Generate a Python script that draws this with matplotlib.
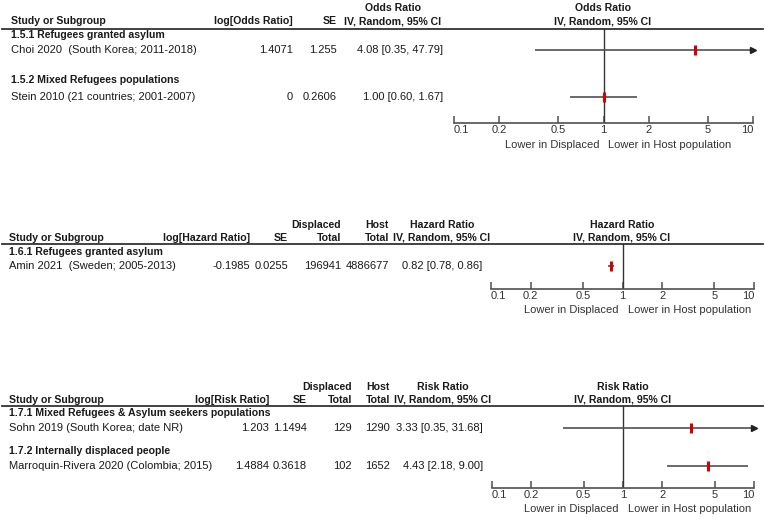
import matplotlib
matplotlib.use("Agg")
import matplotlib.pyplot as plt
from matplotlib.lines import Line2D

plt.rcParams['font.family'] = ['Liberation Sans', 'DejaVu Sans']

W, H = 765, 523
FS = 8.0     # regular text
FSB = 7.6    # bold text
TXT = '#1a1a1a'
GRAY = '#505050'
RED = '#d40000'

# ---------------- data ----------------
# Panel 1: Odds Ratio
p1_groups = ["1.5.1 Refugees granted asylum", "1.5.2 Mixed Refugees populations"]
p1_studies = ["Choi 2020  (South Korea; 2011-2018)", "Stein 2010 (21 countries; 2001-2007)"]
p1_log = ["1.4071", "0"]
p1_se = ["1.255", "0.2606"]
p1_est = [4.08, 1.00]
p1_lo = [0.35, 0.60]
p1_hi = [47.79, 1.67]

# Panel 2: Hazard Ratio
p2_groups = ["1.6.1 Refugees granted asylum"]
p2_studies = ["Amin 2021  (Sweden; 2005-2013)"]
p2_log = ["-0.1985"]
p2_se = ["0.0255"]
p2_disp = ["196941"]
p2_host = ["4886677"]
p2_est = [0.82]
p2_lo = [0.78]
p2_hi = [0.86]

# Panel 3: Risk Ratio
p3_groups = ["1.7.1 Mixed Refugees & Asylum seekers populations", "1.7.2 Internally displaced people"]
p3_studies = ["Sohn 2019 (South Korea; date NR)", "Marroquin-Rivera 2020 (Colombia; 2015)"]
p3_log = ["1.203", "1.4884"]
p3_se = ["1.1494", "0.3618"]
p3_disp = ["129", "102"]
p3_host = ["1290", "1652"]
p3_est = [3.33, 4.43]
p3_lo = [0.35, 2.18]
p3_hi = [31.68, 9.00]

tick_vals = [0.1, 0.2, 0.5, 1, 2, 5, 10]
tick_labels = ["0.1", "0.2", "0.5", "1", "2", "5", "10"]

fig = plt.figure(figsize=(W / 100, H / 100), dpi=100)


def T(x, y, s, ha='left', bold=False, color=TXT, va='center'):
    fig.text(x / W, 1 - y / H, s, ha=ha, va=va,
             fontsize=FSB if bold else FS,
             fontweight='bold' if bold else 'normal', color=color)


def hline(y, x0=2, x1=763):
    fig.add_artist(Line2D([x0 / W, x1 / W], [1 - y / H, 1 - y / H],
                          color='#333333', lw=1.3, transform=fig.transFigure))


def forest(xa, xb, ytop, yaxis, rows, est, lo, hi):
    ax = fig.add_axes([xa / W, 1 - yaxis / H, (xb - xa) / W, (yaxis - ytop) / H])
    ax.set_xscale('log')
    ax.set_xlim(0.1, 10)
    ax.set_ylim(yaxis, ytop)
    ax.patch.set_alpha(0)
    for s in ['top', 'left', 'right']:
        ax.spines[s].set_visible(False)
    ax.spines['bottom'].set_color(GRAY)
    ax.spines['bottom'].set_linewidth(1.2)
    ax.set_yticks([])
    ax.set_xticks(tick_vals)
    labs = ax.set_xticklabels(tick_labels)
    labs[0].set_ha('left')
    labs[-1].set_ha('right')
    ax.xaxis.set_minor_locator(matplotlib.ticker.NullLocator())
    ax.tick_params(axis='x', direction='in', length=5, width=1.1, color=GRAY,
                   labelsize=FS, labelcolor='#333333', pad=1.5)
    ax.axvline(1, color='#333333', lw=1.0)
    for y, e, l, h in zip(rows, est, lo, hi):
        hh = min(h, 10)
        ll = max(l, 0.1)
        ax.plot([ll, hh], [y, y], color=GRAY, lw=1.2, solid_capstyle='butt')
        if h > 10:
            ax.plot([10], [y], marker='>', color='#222222', markersize=4, clip_on=False)
        ax.plot([e], [y], marker='|', color=RED, markersize=7, mew=2.2, zorder=5)
    return ax


def bottom_labels(x1, y):
    T(x1 - 4, y, "Lower in Displaced", ha='right', color='#333333')
    T(x1 + 5, y, "Lower in Host population", ha='left', color='#333333')


# ---------------- Panel 1 ----------------
T(393, 8, "Odds Ratio", ha='center', bold=True)
T(603, 8, "Odds Ratio", ha='center', bold=True)
T(11, 21, "Study or Subgroup", bold=True)
T(293, 21, "log[Odds Ratio]", ha='right', bold=True)
T(337, 21, "SE", ha='right', bold=True)
T(393, 21, "IV, Random, 95% CI", ha='center', bold=True)
T(603, 21, "IV, Random, 95% CI", ha='center', bold=True)
hline(28.5)
p1_grp_y = [35, 80]
p1_row_y = [50, 97]
for gy, g in zip(p1_grp_y, p1_groups):
    T(11, gy, g, bold=True)
for i, ry in enumerate(p1_row_y):
    T(11, ry, p1_studies[i])
    T(293, ry, p1_log[i], ha='right')
    T(337, ry, p1_se[i], ha='right')
    T(443, ry, f"{p1_est[i]:.2f} [{p1_lo[i]:.2f}, {p1_hi[i]:.2f}]", ha='right')
forest(454, 753, 28.5, 123, p1_row_y, p1_est, p1_lo, p1_hi)
bottom_labels(603.5, 145)

# ---------------- Panel 2 ----------------
T(341, 225, "Displaced", ha='right', bold=True)
T(389, 225, "Host", ha='right', bold=True)
T(442, 225, "Hazard Ratio", ha='center', bold=True)
T(622, 225, "Hazard Ratio", ha='center', bold=True)
T(9, 238, "Study or Subgroup", bold=True)
T(250, 238, "log[Hazard Ratio]", ha='right', bold=True)
T(288, 238, "SE", ha='right', bold=True)
T(341, 238, "Total", ha='right', bold=True)
T(389, 238, "Total", ha='right', bold=True)
T(442, 238, "IV, Random, 95% CI", ha='center', bold=True)
T(622, 238, "IV, Random, 95% CI", ha='center', bold=True)
hline(244)
p2_grp_y = [252]
p2_row_y = [266]
for gy, g in zip(p2_grp_y, p2_groups):
    T(9, gy, g, bold=True)
for i, ry in enumerate(p2_row_y):
    T(9, ry, p2_studies[i])
    T(250, ry, p2_log[i], ha='right')
    T(288, ry, p2_se[i], ha='right')
    T(341, ry, p2_disp[i], ha='right')
    T(389, ry, p2_host[i], ha='right')
    T(482, ry, f"{p2_est[i]:.2f} [{p2_lo[i]:.2f}, {p2_hi[i]:.2f}]", ha='right')
forest(491, 754, 244, 289, p2_row_y, p2_est, p2_lo, p2_hi)
bottom_labels(622.5, 310)

# ---------------- Panel 3 ----------------
T(352, 387, "Displaced", ha='right', bold=True)
T(390, 387, "Host", ha='right', bold=True)
T(443, 387, "Risk Ratio", ha='center', bold=True)
T(623, 387, "Risk Ratio", ha='center', bold=True)
T(9, 400, "Study or Subgroup", bold=True)
T(269, 400, "log[Risk Ratio]", ha='right', bold=True)
T(307, 400, "SE", ha='right', bold=True)
T(352, 400, "Total", ha='right', bold=True)
T(390, 400, "Total", ha='right', bold=True)
T(443, 400, "IV, Random, 95% CI", ha='center', bold=True)
T(623, 400, "IV, Random, 95% CI", ha='center', bold=True)
hline(406)
p3_grp_y = [413, 451]
p3_row_y = [428, 466]
for gy, g in zip(p3_grp_y, p3_groups):
    T(9, gy, g, bold=True)
for i, ry in enumerate(p3_row_y):
    T(9, ry, p3_studies[i])
    T(269, ry, p3_log[i], ha='right')
    T(307, ry, p3_se[i], ha='right')
    T(352, ry, p3_disp[i], ha='right')
    T(390, ry, p3_host[i], ha='right')
    T(483, ry, f"{p3_est[i]:.2f} [{p3_lo[i]:.2f}, {p3_hi[i]:.2f}]", ha='right')
forest(492, 754, 406, 488, p3_row_y, p3_est, p3_lo, p3_hi)
bottom_labels(623, 509)

fig.savefig("out.png", dpi=100, facecolor='white')
